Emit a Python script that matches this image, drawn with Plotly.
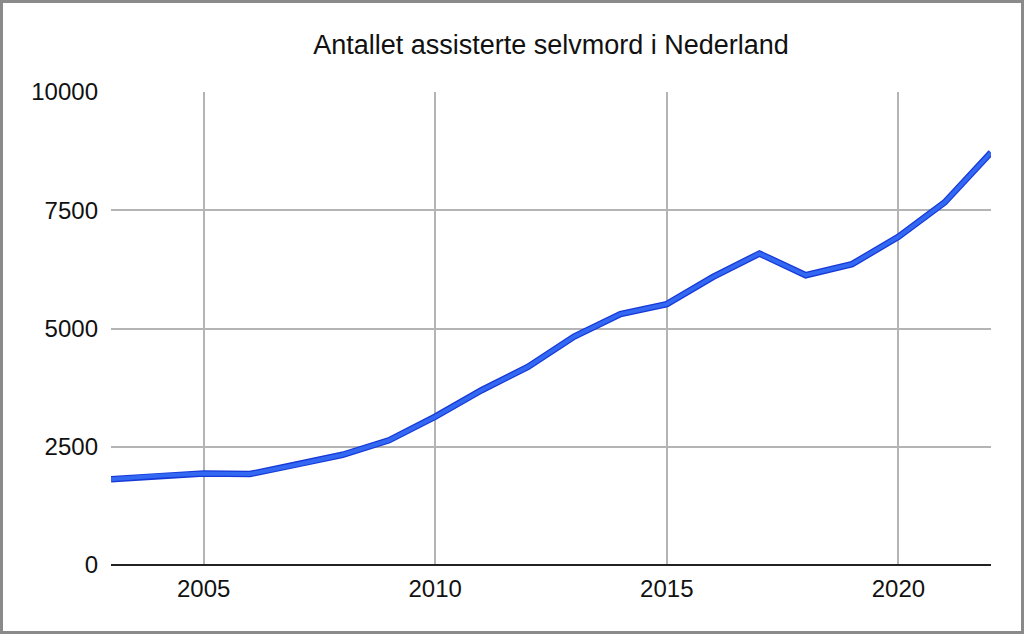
import plotly.graph_objects as go

years = list(range(2003, 2023))
cases = [1815, 1886, 1933, 1923, 2120, 2331, 2636, 3136, 3695, 4188,
         4829, 5306, 5516, 6091, 6585, 6126, 6361, 6938, 7666, 8720]
y_ticks = [0, 2500, 5000, 7500, 10000]
y_labels = ['0', '2500', '5000', '7500', '10000']
x_ticks = [2005, 2010, 2015, 2020]

W, H = 1024, 634
L, R, T, B = 111, 33, 92, 69
pw, ph = W - L - R, H - T - B


def px_x(p):
    return (p - L) / pw


def px_y(p):
    return (H - B - p) / ph


fig = go.Figure()
# darker edge under the line
fig.add_trace(go.Scatter(x=years, y=cases, mode='lines',
                         line=dict(color='#1639d8', width=6.5),
                         hoverinfo='skip', showlegend=False))
fig.add_trace(go.Scatter(x=years, y=cases, mode='lines',
                         line=dict(color='#3368f2', width=4),
                         showlegend=False))

fig.update_layout(
    width=W, height=H,
    margin=dict(l=L, r=R, t=T, b=B),
    paper_bgcolor='white', plot_bgcolor='white',
    font=dict(family='Liberation Sans, Arial, sans-serif', size=24, color='#111111'),
    title=dict(text='Antallet assisterte selvmord i Nederland', x=0.5, xref='paper',
               xanchor='center', y=1 - 45 / H, yanchor='middle',
               font=dict(size=27, color='#111111')),
    xaxis=dict(range=[2003, 2022], tickvals=x_ticks, showgrid=True,
               gridcolor='#b4b4b4', gridwidth=1.5, zeroline=False,
               showline=False, ticks='', ticklabelstandoff=7),
    yaxis=dict(range=[0, 10000], tickvals=y_ticks, ticktext=y_labels, showgrid=True,
               gridcolor='#b4b4b4', gridwidth=1.5, zeroline=True,
               zerolinecolor='#222222', zerolinewidth=1.5,
               showline=False, ticks='', ticklabelstandoff=12),
    shapes=[dict(type='rect', xref='paper', yref='paper',
                 x0=px_x(1.5), x1=px_x(W - 1.5), y0=px_y(H - 1.5), y1=px_y(1.5),
                 line=dict(color='#8a8a8a', width=3), layer='below')],
)

fig.write_html("out.html", config={'displayModeBar': False},
               post_script="document.body.style.margin='0px';document.body.style.overflow='hidden';")
